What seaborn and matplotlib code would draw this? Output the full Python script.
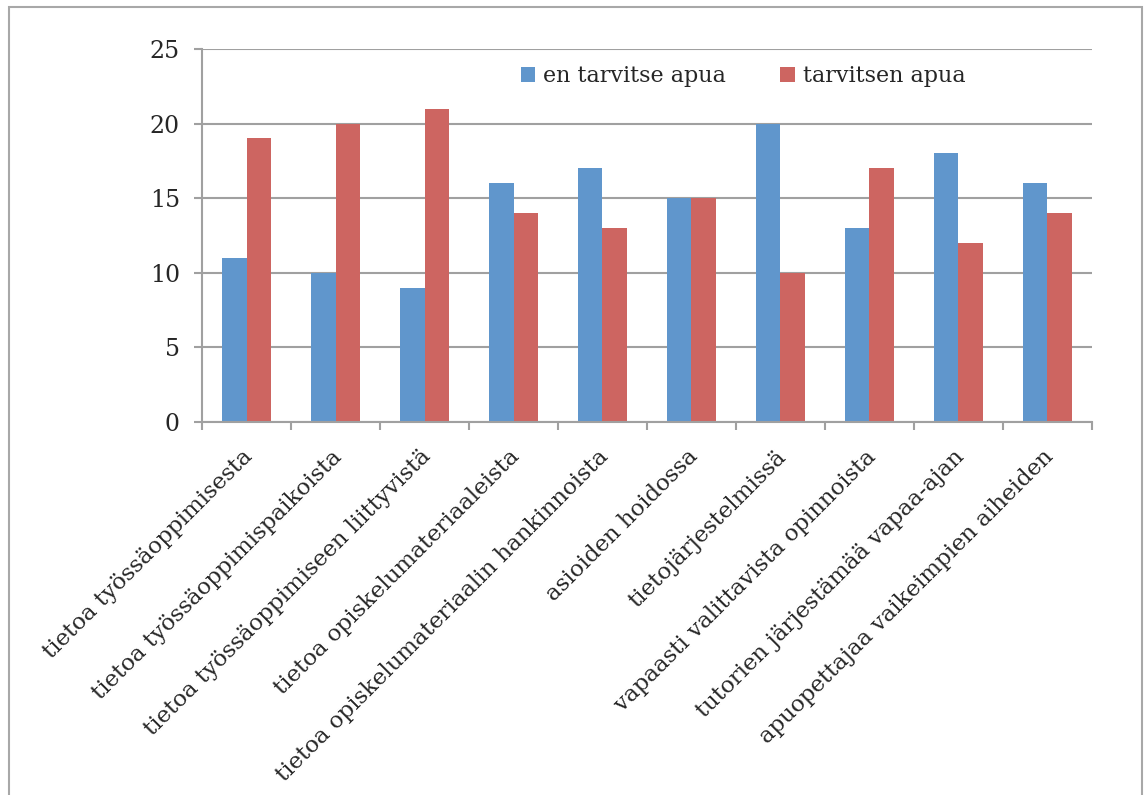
import matplotlib
matplotlib.use("Agg")
import matplotlib.pyplot as plt
from matplotlib.patches import Rectangle
from matplotlib.ticker import FixedLocator
from matplotlib.transforms import ScaledTranslation
import seaborn as sns
import pandas as pd
import numpy as np

categories = [
    "tietoa työssäoppimisesta",
    "tietoa työssäoppimispaikoista",
    "tietoa työssäoppimiseen liittyvistä",
    "tietoa opiskelumateriaaleista",
    "tietoa opiskelumateriaalin hankinnoista",
    "asioiden hoidossa",
    "tietojärjestelmissä",
    "vapaasti valittavista opinnoista",
    "tutorien järjestämää vapaa-ajan",
    "apuopettajaa vaikeimpien aiheiden",
]
series_names = ["en tarvitse apua", "tarvitsen apua"]
en_tarvitse = [11, 10, 9, 16, 17, 15, 20, 13, 18, 16]
tarvitsen = [19, 20, 21, 14, 13, 15, 10, 17, 12, 14]
y_ticks = [0, 5, 10, 15, 20, 25]

df = pd.DataFrame({
    "kategoria": categories * 2,
    "vastaus": [series_names[0]] * len(categories) + [series_names[1]] * len(categories),
    "lukumäärä": en_tarvitse + tarvitsen,
})

sns.set_theme(style="white")
plt.rcParams["font.family"] = ["DejaVu Serif"]

fig = plt.figure(figsize=(11.44, 7.95), dpi=100)
ax = fig.add_axes([0.1766, 0.4692, 0.7779, 0.4692])

palette = ["#6096CC", "#CD6561"]
sns.barplot(data=df, x="kategoria", y="lukumäärä", hue="vastaus",
            palette=palette, width=0.56, gap=0, saturation=1,
            edgecolor="none", ax=ax)

grid_col = "#A0A0A0"
ax.set_ylim(0, 25)
ax.set_xlim(-0.5, len(categories) - 0.5)
ax.set_yticks(y_ticks)
ax.yaxis.grid(True, color=grid_col, linewidth=1.5)
ax.set_axisbelow(True)
ax.set_xlabel("")
ax.set_ylabel("")

for s in ["top", "right"]:
    ax.spines[s].set_visible(False)
for s in ["left", "bottom"]:
    ax.spines[s].set_color(grid_col)
    ax.spines[s].set_linewidth(1.5)

ax.tick_params(axis="y", direction="out", length=6, width=1.5, color=grid_col,
               labelsize=17, pad=10, left=True)
ax.set_xticks(range(len(categories)))
ax.set_xticklabels(categories, rotation=45, ha="right", va="top",
                   rotation_mode="anchor", fontsize=16.5)
ax.tick_params(axis="x", which="major", length=0, pad=17)
# nudge the slanted category labels slightly to the left
shift = ScaledTranslation(-5 / 100, 0, fig.dpi_scale_trans)
for lbl in ax.get_xticklabels():
    lbl.set_transform(lbl.get_transform() + shift)
ax.xaxis.set_minor_locator(FixedLocator(np.arange(-0.5, len(categories), 1.0)))
ax.tick_params(axis="x", which="minor", direction="out", length=6, width=1.5,
               color=grid_col, bottom=True)

leg = ax.legend(loc="upper right", bbox_to_anchor=(0.88, 1.01), ncol=2,
                frameon=False, fontsize=16, handlelength=0.65, handleheight=0.65,
                handletextpad=0.35, columnspacing=2.45)

fig.patches.append(Rectangle((9 / 1144, -0.05), (1142 - 9) / 1144, 1.05 - 7 / 795,
                             transform=fig.transFigure, fill=False,
                             edgecolor="#A8A8A8", linewidth=1.5))

fig.savefig("out.png", dpi=100)
